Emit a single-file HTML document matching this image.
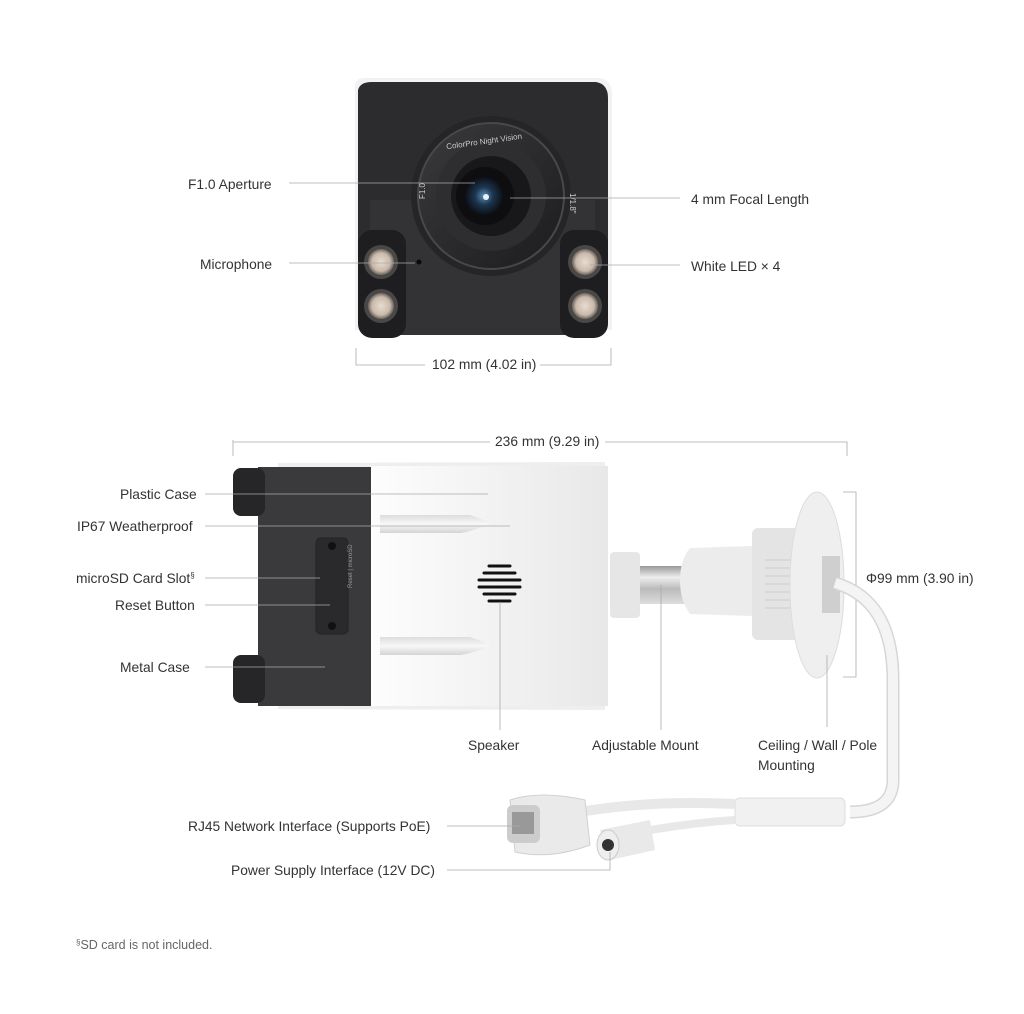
<!DOCTYPE html>
<html><head><meta charset="utf-8"><style>
html,body{margin:0;padding:0;background:#fff;}
svg{display:block}
text{font-family:"Liberation Sans",sans-serif;font-size:13.8px;fill:#333}
</style></head><body>
<svg width="1024" height="1014" viewBox="0 0 1024 1014" xmlns="http://www.w3.org/2000/svg">
<defs>
<radialGradient id="lens" cx="50%" cy="50%" r="50%"><stop offset="0" stop-color="#5a8fb5"/><stop offset="0.45" stop-color="#1d3550"/><stop offset="1" stop-color="#0b0d10"/></radialGradient>
<radialGradient id="led" cx="50%" cy="50%" r="50%"><stop offset="0" stop-color="#e8ddd2"/><stop offset="0.7" stop-color="#c9b9aa"/><stop offset="1" stop-color="#6b6560"/></radialGradient>
<linearGradient id="pipe" x1="0" y1="0" x2="0" y2="1"><stop offset="0" stop-color="#999"/><stop offset="0.3" stop-color="#eee"/><stop offset="0.6" stop-color="#bbb"/><stop offset="1" stop-color="#ddd"/></linearGradient>
<linearGradient id="wh" x1="0" y1="0" x2="1" y2="0"><stop offset="0" stop-color="#fdfdfd"/><stop offset="1" stop-color="#e8e8e8"/></linearGradient>
<linearGradient id="fin" x1="0" y1="0" x2="0" y2="1"><stop offset="0" stop-color="#ddd"/><stop offset="0.5" stop-color="#f8f8f8"/><stop offset="1" stop-color="#d4d4d4"/></linearGradient>
<linearGradient id="ring" x1="0" y1="0" x2="1" y2="1"><stop offset="0" stop-color="#3a3a3d"/><stop offset="1" stop-color="#1c1c1e"/></linearGradient>
</defs>

<!-- FRONT VIEW -->
<path d="M355 85 Q356 78 365 78 L600 78 Q612 80 612 95 L612 330 L355 330 Z" fill="#f2f2f2"/>
<path d="M358 90 Q360 82 372 82 L596 82 Q608 84 608 98 L608 250 L358 250 Z" fill="#2c2c2e"/>
<rect x="370" y="200" width="225" height="135" fill="#333335"/>
<circle cx="491" cy="196" r="80" fill="#252527"/>
<circle cx="491" cy="196" r="73" fill="url(#ring)" stroke="#48484a" stroke-width="2"/>
<circle cx="491" cy="196" r="55" fill="#2e2e30"/>
<circle cx="491" cy="196" r="40" fill="#18181a"/>
<circle cx="485" cy="196" r="29" fill="#0e0e10"/>
<circle cx="484" cy="196" r="20" fill="url(#lens)"/>
<circle cx="486" cy="197" r="3" fill="#e8f2fa"/>
<text x="446" y="146" style="font-size:8px;fill:#ccc" transform="rotate(-8 470 143)">ColorPro Night Vision</text>
<text x="418" y="200" style="font-size:8px;fill:#ccc" transform="rotate(-90 421 196)">F1.0</text>
<text x="563" y="192" style="font-size:8px;fill:#ccc" transform="rotate(90 566 196)">1/1.8"</text>
<rect x="358" y="230" width="48" height="108" rx="14" fill="#1e1e20"/>
<rect x="560" y="230" width="48" height="108" rx="14" fill="#1e1e20"/>
<circle cx="381" cy="262" r="17" fill="#4a4846"/><circle cx="381" cy="262" r="13" fill="url(#led)"/>
<circle cx="381" cy="306" r="17" fill="#4a4846"/><circle cx="381" cy="306" r="13" fill="url(#led)"/>
<circle cx="585" cy="262" r="17" fill="#4a4846"/><circle cx="585" cy="262" r="13" fill="url(#led)"/>
<circle cx="585" cy="306" r="17" fill="#4a4846"/><circle cx="585" cy="306" r="13" fill="url(#led)"/>
<circle cx="419" cy="262" r="2.5" fill="#0a0a0a"/>

<g stroke="#aaa" stroke-width="0.8" fill="none">
<line x1="289" y1="183" x2="475" y2="183"/>
<line x1="510" y1="198" x2="680" y2="198"/>
<line x1="289" y1="263" x2="415" y2="263"/>
<line x1="590" y1="265" x2="680" y2="265"/>
<path d="M356 348 V365 H425 M540 365 H611 V348"/>
<path d="M233 440 V456 M233 442 H490 M605 442 H847 V456"/>
<path d="M843 492 H856 V677 H843"/>
</g>
<text x="188" y="189">F1.0 Aperture</text>
<text x="691" y="204">4 mm Focal Length</text>
<text x="200" y="269">Microphone</text>
<text x="691" y="271">White LED × 4</text>
<text x="432" y="369">102 mm (4.02 in)</text>
<text x="495" y="446">236 mm (9.29 in)</text>
<text x="866" y="583">Φ99 mm (3.90 in)</text>

<!-- SIDE VIEW -->
<path d="M278 463 L605 462 L605 467 L278 468 Z" fill="#eee"/>
<path d="M278 705 L605 704 L605 710 L278 709 Z" fill="#eee"/>
<rect x="370" y="466" width="238" height="240" fill="url(#wh)"/>
<rect x="258" y="467" width="113" height="239" fill="#3a3a3c"/>
<rect x="233" y="468" width="32" height="48" rx="8" fill="#262628"/>
<rect x="233" y="655" width="32" height="48" rx="8" fill="#262628"/>
<rect x="316" y="538" width="32" height="96" rx="5" fill="#2a2a2c" stroke="#222" stroke-width="1"/>
<circle cx="332" cy="546" r="4" fill="#111"/><circle cx="332" cy="626" r="4" fill="#111"/>
<text x="335" y="605" style="font-size:6px;fill:#999" transform="rotate(-90 335 588)">Reset | microSD</text>
<path d="M380 515 H470 Q490 522 490 524 Q470 532 460 533 H380 Z" fill="url(#fin)"/>
<path d="M380 637 H470 Q490 644 490 646 Q470 654 460 655 H380 Z" fill="url(#fin)"/>
<g stroke="#111" stroke-width="3" stroke-linecap="round">
<line x1="489" y1="566" x2="510" y2="566"/><line x1="484" y1="573" x2="515" y2="573"/>
<line x1="479" y1="580" x2="520" y2="580"/><line x1="479" y1="587" x2="520" y2="587"/>
<line x1="484" y1="594" x2="515" y2="594"/><line x1="489" y1="601" x2="510" y2="601"/>
</g>
<rect x="610" y="552" width="30" height="66" rx="4" fill="#e6e6e6"/>
<rect x="640" y="566" width="45" height="38" fill="url(#pipe)"/>
<path d="M690 548 L752 546 L752 616 L690 614 Q680 600 680 581 Q680 560 690 548 Z" fill="#ececec"/>
<rect x="752" y="528" width="54" height="112" rx="6" fill="#e4e4e4"/>
<g stroke="#ccc" stroke-width="1"><line x1="765" y1="560" x2="805" y2="560"/><line x1="765" y1="568" x2="805" y2="568"/><line x1="765" y1="576" x2="805" y2="576"/><line x1="765" y1="584" x2="805" y2="584"/><line x1="765" y1="592" x2="805" y2="592"/><line x1="765" y1="600" x2="805" y2="600"/><line x1="765" y1="608" x2="805" y2="608"/></g>
<ellipse cx="817" cy="585" rx="27" ry="93" fill="#efefef" stroke="#ddd"/>
<rect x="822" y="556" width="18" height="57" fill="#cfcfcf"/>
<path d="M835 583 Q893 600 893 680 L893 780 Q893 812 850 812" fill="none" stroke="#d6d6d6" stroke-width="13"/>
<path d="M835 583 Q893 600 893 680 L893 780 Q893 812 850 812" fill="none" stroke="#f4f4f4" stroke-width="10"/>
<rect x="735" y="798" width="110" height="28" rx="5" fill="#f1f1f1" stroke="#ddd"/>
<path d="M580 812 Q650 800 735 804" fill="none" stroke="#e8e8e8" stroke-width="10"/>
<path d="M650 830 Q700 822 735 820" fill="none" stroke="#e8e8e8" stroke-width="8"/>
<path d="M510 800 Q540 790 585 800 L590 845 Q550 860 515 852 Z" fill="#eaeaea" stroke="#d0d0d0"/>
<rect x="507" y="805" width="33" height="38" rx="6" fill="#ccc"/>
<rect x="512" y="812" width="22" height="22" fill="#999"/>
<path d="M600 830 L650 820 L655 850 L610 860 Z" fill="#e9e9e9"/>
<ellipse cx="608" cy="845" rx="11" ry="15" fill="#eee" stroke="#ccc"/>
<circle cx="608" cy="845" r="6" fill="#333"/>

<g stroke="#aaa" stroke-width="0.8" fill="none">
<line x1="205" y1="494" x2="488" y2="494"/>
<line x1="205" y1="526" x2="510" y2="526"/>
<line x1="205" y1="578" x2="320" y2="578"/>
<line x1="205" y1="605" x2="330" y2="605"/>
<line x1="205" y1="667" x2="325" y2="667"/>
<line x1="500" y1="602" x2="500" y2="730"/>
<line x1="661" y1="585" x2="661" y2="730"/>
<line x1="827" y1="655" x2="827" y2="727"/>
<line x1="447" y1="826" x2="520" y2="826"/>
<path d="M447 870 H610 V852"/>
</g>
<text x="120" y="499">Plastic Case</text>
<text x="77" y="531">IP67 Weatherproof</text>
<text x="76" y="583">microSD Card Slot<tspan style="font-size:8px" dy="-5">§</tspan></text>
<text x="115" y="610">Reset Button</text>
<text x="120" y="672">Metal Case</text>
<text x="468" y="750">Speaker</text>
<text x="592" y="750">Adjustable Mount</text>
<text x="758" y="750">Ceiling / Wall / Pole</text>
<text x="758" y="770">Mounting</text>
<text x="188" y="831">RJ45 Network Interface (Supports PoE)</text>
<text x="231" y="875">Power Supply Interface (12V DC)</text>
<text x="76" y="949" style="font-size:12.5px;fill:#666"><tspan style="font-size:8px" dy="-4">§</tspan><tspan dy="4">SD card is not included.</tspan></text>
</svg>
</body></html>
